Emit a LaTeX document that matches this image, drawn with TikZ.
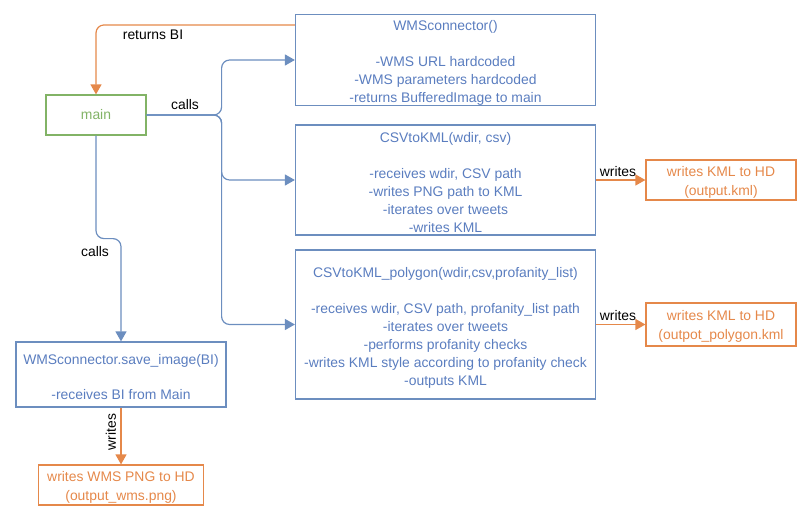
\documentclass[tikz,border=0pt]{standalone}
\usepackage{fontspec}
\setmainfont{Liberation Sans}
\usetikzlibrary{arrows.meta}
\definecolor{bl}{HTML}{6C8EBF}
\definecolor{bltext}{HTML}{5A7DBF}
\definecolor{gr}{HTML}{82B366}
\definecolor{or}{HTML}{E5884A}
\newcommand{\topstrut}{\rule{0pt}{16pt}}
\tikzset{
  box/.style={draw=bl, text=bltext, line width=1.2pt, inner sep=0pt, align=center, font=\fontsize{13.9}{18}\selectfont},
  mainbox/.style={draw=gr, text=gr, line width=1.2pt, inner sep=0pt, align=center, font=\fontsize{13.9}{18}\selectfont},
  outbox/.style={draw=or, text=or, line width=1.2pt, inner sep=0pt, align=center, font=\fontsize{13.9}{19}\selectfont},
  blueline/.style={draw=bl, line width=1.2pt, rounded corners=8pt, -{Triangle[length=10pt,width=11pt]}},
  orangeline/.style={draw=or, line width=1.2pt, rounded corners=8pt, -{Triangle[length=10pt,width=11pt]}},
  lbl/.style={text=black, inner sep=0pt, font=\fontsize{13.9}{16}\selectfont},
}
\begin{document}
\begin{tikzpicture}[x=1pt,y=-1pt]
\useasboundingbox (0,0) rectangle (805,514);
\node[box, minimum width=300pt, minimum height=90pt] (wms) at (445.5,60) {\topstrut WMSconnector()\\[18pt]-WMS URL hardcoded\\-WMS parameters hardcoded\\-returns BufferedImage to main};
\node[box, minimum width=300pt, minimum height=110pt] (csv) at (445.5,180) {\topstrut CSVtoKML(wdir, csv)\\[18pt]-receives wdir, CSV path\\-writes PNG path to KML\\-iterates over tweets\\-writes KML};
\node[box, minimum width=300pt, minimum height=149pt] (poly) at (445.5,324.5) {\topstrut CSVtoKML\_polygon(wdir,csv,profanity\_list)\\[18pt]-receives wdir, CSV path, profanity\_list path\\-iterates over tweets\\-performs profanity checks\\-writes KML style according to profanity check\\-outputs KML};
\node[mainbox, minimum width=100pt, minimum height=40pt] (main) at (96,115) {main};
\node[box, minimum width=210pt, minimum height=65pt] (save) at (121,374.5) {\topstrut WMSconnector.save\_image(BI)\\[17pt]-receives BI from Main};
\node[outbox, minimum width=165pt, minimum height=40pt] (outwms) at (121,485) {\rule{0pt}{14pt}writes WMS PNG to HD\\(output\_wms.png)};
\node[outbox, minimum width=150pt, minimum height=40pt] (outkml) at (721,180) {\rule{0pt}{14pt}writes KML to HD\\(output.kml)};
\node[outbox, minimum width=150pt, minimum height=43pt] (outpoly) at (721,324.5) {\rule{0pt}{14pt}writes KML to HD\\(outpot\_polygon.kml};

\draw[orangeline] ([yshift=-11pt]wms.north west) -| (main.north);
\draw[blueline] (main.east) -- ++(75,0) |- (wms.west);
\draw[blueline] (main.east) -- ++(75,0) |- (csv.west);
\draw[blueline] (main.east) -- ++(75,0) |- (poly.west);
\draw[blueline] (main.south) -- ++(0,103) -- ++(25,0) -- (save.north);
\draw[orangeline] (save.south) -- (outwms.north);
\draw[orangeline] (csv.east) -- (outkml.west);
\draw[orangeline] (poly.east) -- (outpoly.west);

\node[lbl] (l1) at (153,35) {returns BI};
\node[lbl] (l2) at (185,105) {calls};
\node[lbl] (l3) at (95,252) {calls};
\node[lbl, rotate=90] (l4) at (111,432) {writes};
\node[lbl] (l5) at (618,172) {writes};
\node[lbl] (l6) at (618,316) {writes};
\end{tikzpicture}
\end{document}
